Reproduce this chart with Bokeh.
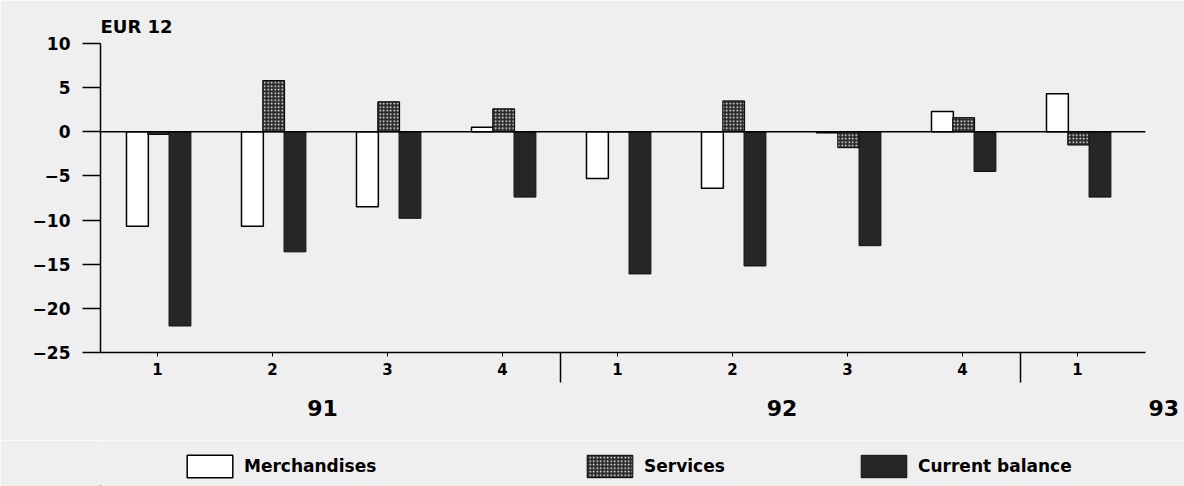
from bokeh.plotting import figure
from bokeh.models import (ColumnDataSource, FixedTicker, Legend, LegendItem, LinearAxis)
from bokeh.layouts import column
from bokeh.transform import dodge
from bokeh.embed import file_html
from bokeh.resources import INLINE

# ---- data ----
quarters = ["1", "2", "3", "4", "1", "2", "3", "4", "1"]
years = ["91", "92", "93"]
year_label_pos = [1.435, 5.43, 8.75]   # centre of each year label, in quarter units
merchandises = [-10.7, -10.7, -8.5, 0.5, -5.3, -6.4, -0.1, 2.3, 4.3]
services = [-0.3, 5.8, 3.4, 2.6, 0.0, 3.5, -1.8, 1.6, -1.5]
current_balance = [-22.0, -13.6, -9.8, -7.4, -16.1, -15.2, -12.9, -4.5, -7.4]
y_ticks = [-25, -20, -15, -10, -5, 0, 5, 10]
series_names = ["Merchandises", "Services", "Current balance"]

idx = list(range(len(quarters)))
src = ColumnDataSource(dict(x=idx, m=merchandises, s=services, c=current_balance))

BG = "#efefef"
FONT = "DejaVu Sans"
X_LO, X_HI = -0.496, 8.59       # extent of the drawn axis / zero line
X_END = 8.93                    # frame continues a little to the right (room for "93")

p = figure(width=1184, height=440, x_range=(X_LO, X_END), y_range=(-25, 10),
           output_backend="svg", toolbar_location=None,
           min_border_left=100, min_border_right=0, min_border_top=43, min_border_bottom=88)
p.title.text = "EUR 12"
p.title.text_font = FONT
p.title.text_font_size = "18px"
p.title.text_font_style = "bold"
p.title.text_color = "black"
p.title.offset = 0
p.title.standoff = 14
p.background_fill_color = BG
p.border_fill_color = BG
p.outline_line_color = None
p.xgrid.visible = False
p.ygrid.visible = False

w = 0.19
m_style = dict(fill_color="white", line_color="black", line_width=1.5)
s_style = dict(fill_color="#2a2a2a", hatch_pattern="dot", hatch_color="white", hatch_scale=3.5,
               hatch_weight=1.5, line_color="black", line_width=1)
c_style = dict(fill_color="#262626", line_color="#111111", line_width=1)

r_m = p.vbar(x=dodge("x", -0.175, range=p.x_range), top="m", bottom=0, width=w, source=src, **m_style)
r_s = p.vbar(x=dodge("x", 0.01, range=p.x_range), top="s", bottom=0, width=w, source=src, **s_style)
r_c = p.vbar(x=dodge("x", 0.195, range=p.x_range), top="c", bottom=0, width=w, source=src, **c_style)

# zero line over the axis extent
p.segment(x0=[X_LO], x1=[X_HI], y0=[0], y1=[0], line_color="black", line_width=1.5)

# y axis
ya = p.yaxis[0]
ya.ticker = FixedTicker(ticks=y_ticks)
ya.major_tick_out = 18
ya.major_tick_in = 0
ya.minor_tick_out = 0
ya.minor_tick_in = 0
ya.axis_line_width = 1.5
ya.major_tick_line_width = 1.5
ya.major_label_standoff = 12
ya.major_label_text_font = FONT
ya.major_label_text_font_style = "bold"
ya.major_label_text_font_size = "17px"
ya.major_label_text_color = "black"

# x axis (quarters, with year separators as long minor ticks)
xa = p.xaxis[0]
xa.ticker = FixedTicker(ticks=idx, minor_ticks=[3.5, 7.5])
xa.bounds = (X_LO, X_HI)
xa.major_label_overrides = {i: q for i, q in zip(idx, quarters)}
xa.major_tick_out = 4
xa.major_tick_in = 0
xa.minor_tick_out = 30
xa.minor_tick_in = 0
xa.minor_tick_line_width = 1.5
xa.axis_line_width = 1.5
xa.major_label_standoff = -20
xa.major_label_text_font = FONT
xa.major_label_text_font_style = "bold"
xa.major_label_text_font_size = "15px"
xa.major_label_text_color = "black"

# year axis
yax = LinearAxis(ticker=FixedTicker(ticks=year_label_pos, minor_ticks=[]),
                 major_label_overrides={pos: yr for pos, yr in zip(year_label_pos, years)},
                 axis_line_color=None, major_tick_line_color=None, minor_tick_line_color=None,
                 major_tick_out=0, major_tick_in=0, minor_tick_out=0, minor_tick_in=0,
                 major_label_standoff=22,
                 major_label_text_font=FONT, major_label_text_font_style="bold",
                 major_label_text_font_size="22px", major_label_text_color="black")
p.add_layout(yax, "below")

# legend strip (its frame is aligned with the main frame by the column layout)
p2 = figure(width=1184, height=46, x_range=(100, 101), y_range=(100, 101),
            output_backend="svg", toolbar_location=None,
            min_border_left=100, min_border_right=0, min_border_top=0, min_border_bottom=0)
p2.axis.visible = False
p2.xgrid.visible = False
p2.ygrid.visible = False
p2.outline_line_color = None
p2.background_fill_color = BG
p2.border_fill_color = BG
# legend swatches use the same data source; the bars themselves fall outside this strip's ranges
lr = [p2.vbar(x="x", top=col, bottom=0, width=w, source=src, **st)
      for col, st in (("m", m_style), ("s", s_style), ("c", c_style))]

for r, name, vx in zip(lr, series_names, [81, 481, 755]):
    lg = Legend(items=[LegendItem(label=name, renderers=[r])], location=(vx, 6),
                orientation="horizontal", glyph_width=57, glyph_height=28, label_standoff=6,
                padding=0, margin=0, border_line_color=None, background_fill_alpha=0,
                label_text_font=FONT, label_text_font_size="17px", label_text_font_style="bold",
                label_text_color="black", label_height=28)
    p2.add_layout(lg, "center")

layout = column(p, p2, spacing=0)
open("out.html", "w").write(file_html(layout, INLINE))
